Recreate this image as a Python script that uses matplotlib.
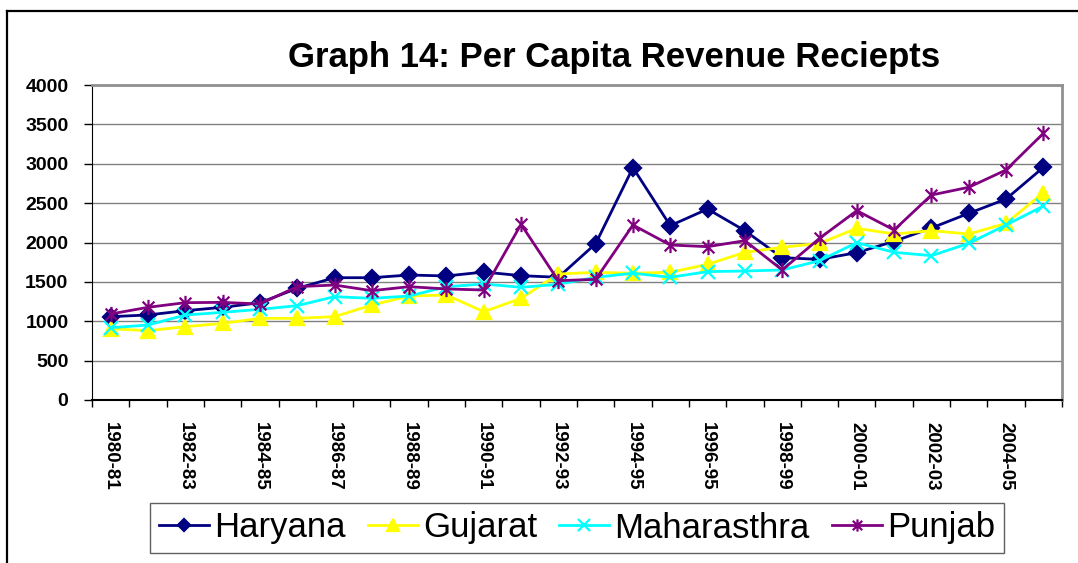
import numpy as np
import matplotlib
matplotlib.use('Agg')
import matplotlib.pyplot as plt
from matplotlib.path import Path
from matplotlib.lines import Line2D
from matplotlib.ticker import MultipleLocator, FixedLocator

matplotlib.rc('font', family=['Liberation Sans', 'DejaVu Sans'])

years = ['1980-81', '1981-82', '1982-83', '1983-84', '1984-85', '1985-86', '1986-87',
         '1987-88', '1988-89', '1989-90', '1990-91', '1991-92', '1992-93', '1993-94',
         '1994-95', '1995-96', '1996-95', '1997-98', '1998-99', '1999-00', '2000-01',
         '2001-02', '2002-03', '2003-04', '2004-05', '2005-06']

haryana = [1058, 1080, 1134, 1177, 1235, 1418, 1553, 1553, 1587, 1575, 1625, 1579, 1558,
           1985, 2950, 2214, 2425, 2150, 1807, 1786, 1871, 2015, 2184, 2370, 2552, 2954]
gujarat = [905, 880, 931, 973, 1037, 1037, 1058, 1206, 1320, 1333, 1121, 1291, 1600,
           1621, 1610, 1621, 1723, 1875, 1939, 1989, 2180, 2108, 2150, 2108, 2243, 2633]
maharashtra = [918, 952, 1079, 1113, 1151, 1198, 1312, 1291, 1320, 1439, 1473, 1431, 1469,
               1558, 1610, 1558, 1630, 1638, 1651, 1769, 1998, 1875, 1833, 1989, 2222, 2463]
punjab = [1092, 1177, 1236, 1240, 1219, 1439, 1460, 1388, 1439, 1410, 1397, 2231, 1515,
          1532, 2222, 1968, 1947, 2023, 1651, 2053, 2404, 2159, 2603, 2701, 2921, 3386]

series = [('Haryana', haryana, '#000080', 'D', 8),
          ('Gujarat', gujarat, '#FFFF00', '^', 10),
          ('Maharasthra', maharashtra, '#00FFFF', 'x', 10),
          ('Punjab', punjab, '#800080', 'star', 11)]

# excel style star: an x with a vertical bar through it
star = Path([(-1, -1), (1, 1), (-1, 1), (1, -1), (0, -1.3), (0, 1.3)],
            [Path.MOVETO, Path.LINETO, Path.MOVETO, Path.LINETO, Path.MOVETO, Path.LINETO])

fig = plt.figure(figsize=(10.78, 5.63), dpi=100)
ax = fig.add_axes([92/1078, 1-400/563, 970/1078, 315/563])

x = np.arange(len(years))
for name, vals, col, mk, ms in series:
    if mk == 'star':
        mk = star
    ax.plot(x, vals, color=col, lw=2, marker=mk, markersize=ms,
            markeredgewidth=1.6, markerfacecolor=col, markeredgecolor=col, label=name)

ax.set_xlim(-0.5, len(years) - 0.5)
ax.set_ylim(0, 4000)
ax.yaxis.set_major_locator(MultipleLocator(500))
ax.grid(axis='y', color='#808080', lw=1)
ax.set_axisbelow(True)

ax.xaxis.set_major_locator(FixedLocator(x[::2]))
ax.set_xticklabels(years[::2], rotation=270, fontsize=13.5, fontweight='bold')
ax.xaxis.set_minor_locator(FixedLocator(np.arange(-0.5, len(years), 1)))
ax.tick_params(axis='x', which='major', length=0, pad=16)
ax.tick_params(axis='x', which='minor', length=5, width=1, color='black')
ax.tick_params(axis='y', length=6, width=1, pad=11, labelsize=14)
for lab in ax.get_yticklabels():
    lab.set_fontweight('bold')

ax.spines['left'].set_color('black')
ax.spines['bottom'].set_color('black')
ax.spines['bottom'].set_linewidth(1.5)
ax.spines['top'].set_color('#909090')
ax.spines['right'].set_color('#909090')
ax.spines['top'].set_linewidth(2)
ax.spines['right'].set_linewidth(2)

fig.text(614/1078, 1-67/563, 'Graph 14: Per Capita Revenue Reciepts',
         ha='center', va='baseline', fontsize=25, fontweight='bold')

leg = fig.legend(loc='center', bbox_to_anchor=(577/1078, 1-528/563), ncol=4,
                 fontsize=25, handlelength=1.45, handletextpad=0.15, columnspacing=0.63,
                 borderpad=0.25, fancybox=False, framealpha=1, edgecolor='#606060',
                 markerscale=0.8)
leg.get_frame().set_linewidth(1)

# outer chart frame
fig.add_artist(Line2D([7/1078, 7/1078], [0, 1-11/563], color='black', lw=1.6,
                      transform=fig.transFigure))
fig.add_artist(Line2D([7/1078, 1], [1-11/563, 1-11/563], color='black', lw=1.6,
                      transform=fig.transFigure))

fig.savefig('out.png', dpi=100)
plt.close('all')
